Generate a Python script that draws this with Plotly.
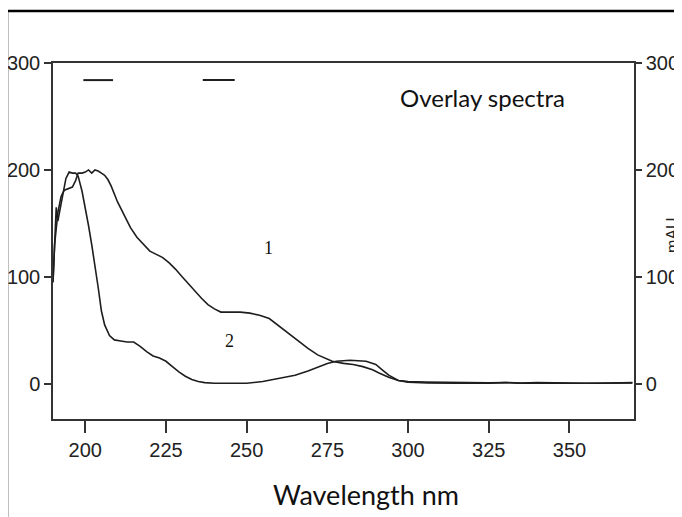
import plotly.graph_objects as go

# ---------------- data ----------------
wl_1 = [190.0, 190.5, 191.5, 192.5, 193.5, 195.0, 196.0, 197.0, 197.8, 199.0, 200.0, 201.0, 202.0,
        203.0, 204.0, 205.0, 206.0, 207.0, 208.0, 210.0, 212.0, 214.0, 216.0, 218.0, 220.0, 222.0,
        224.0, 226.0, 228.0, 230.0, 232.0, 234.0, 236.0, 238.0, 240.0, 242.0, 245.0, 248.0, 251.0,
        254.0, 257.0, 260.0, 263.0, 266.0, 269.0, 272.0, 276.5, 280.0, 283.0, 286.0, 289.0, 291.0,
        294.0, 297.0, 300.0, 305.0, 310.0, 315.0, 320.0, 325.0, 330.0, 335.0, 340.0, 345.0, 350.0,
        355.0, 360.0, 365.0, 369.5]
abs_1 = [95, 130, 160, 175, 181, 183, 184, 190, 197, 197, 198, 200, 197,
         200, 199, 197, 195, 191, 185, 170, 158, 146, 137, 130, 124, 121,
         118, 113, 107, 100, 93, 86, 80, 74, 70, 67, 67, 67, 66,
         64, 61, 54, 47, 40, 33, 27, 21, 19, 18, 16, 13, 10,
         6, 3, 2, 1.5, 1.2, 1.0, 1.0, 0.8, 1.2, 0.6, 1.0, 0.6, 0.5,
         0.5, 0.5, 0.5, 1.0]

wl_2 = [190.0, 190.5, 191.0, 191.5, 192.0, 193.0, 194.0, 195.0, 196.0, 197.0, 197.8, 199.0, 200.0,
        201.0, 202.0, 203.0, 204.0, 205.0, 206.0, 207.5, 209.0, 211.0, 213.0, 215.0, 217.0, 219.0,
        221.0, 223.0, 225.0, 227.0, 229.0, 231.0, 233.0, 235.0, 237.0, 240.0, 245.0, 250.0, 255.0,
        258.0, 262.0, 265.0, 269.0, 272.5, 275.0, 277.8, 282.0, 287.0, 290.0, 292.0, 294.0, 297.0,
        300.0, 306.0, 310.0, 315.0, 320.0, 325.0, 330.0, 335.0, 340.0, 345.0, 350.0, 355.0, 360.0,
        365.0, 369.5]
abs_2 = [95, 140, 165, 152, 160, 178, 192, 198, 197, 197, 194, 180, 165,
         148, 130, 112, 90, 68, 55, 45, 41, 40, 39, 39, 35, 30,
         26, 24, 21, 16, 11, 7, 4, 2, 1, 0.5, 0.5, 0.5, 2,
         4, 6, 8, 12, 16, 19, 21, 22, 21, 18, 13, 8, 3,
         1.5, 0.8, 0.5, 0.5, 0.8, 0.4, 1.0, 0.5, 0.8, 0.4, 0.5, 0.5, 0.4,
         0.5, 0.8]

# short marker dashes near the top of the panel
dash_x = [[199.4, 208.6], [236.4, 246.3]]
dash_y = 284

curve_labels = ["1", "2"]
label_x = [256.8, 244.6]
label_y = [127, 40]

x_ticks = [200, 225, 250, 275, 300, 325, 350]
y_ticks = [0, 100, 200, 300]
x_range = [190, 370]
y_range = [-33, 300]

title_text = "Overlay spectra"
x_title = "Wavelength nm"
y_title = "mAU"

# ---------------- figure ----------------
# page body has an 8px margin, so the figure is 674x509 to fill the 682x517 window
W, H = 674, 509
PL, PR, PT, PB = 45, 626, 55, 411          # plot area in figure pixels
PW, PH = PR - PL, PB - PT


def px(x):   # reference-window x pixel -> paper coordinate
    return (x - 8 - PL) / PW


def py(y):   # reference-window y pixel -> paper coordinate
    return (PB - (y - 8)) / PH


line_col = "#1e1e1e"
tick_font = dict(family="Liberation Sans Narrow, Arial Narrow, Liberation Sans, Arial, sans-serif",
                 size=20, color="#222")

fig = go.Figure()
fig.add_trace(go.Scatter(x=wl_1, y=abs_1, mode="lines", line=dict(color=line_col, width=1.6),
                         showlegend=False, hoverinfo="skip"))
fig.add_trace(go.Scatter(x=wl_2, y=abs_2, mode="lines", line=dict(color=line_col, width=1.6),
                         showlegend=False, hoverinfo="skip"))
for seg in dash_x:
    fig.add_trace(go.Scatter(x=seg, y=[dash_y, dash_y], mode="lines",
                             line=dict(color=line_col, width=2), showlegend=False, hoverinfo="skip"))
# dummy trace to activate right axis
fig.add_trace(go.Scatter(x=[None], y=[None], yaxis="y2", showlegend=False, hoverinfo="skip"))

for t, lx, ly in zip(curve_labels, label_x, label_y):
    fig.add_annotation(x=lx, y=ly, text=t, showarrow=False,
                       font=dict(family="Liberation Serif, Times New Roman, serif", size=18, color="#111"))

fig.update_layout(
    width=W, height=H,
    margin=dict(l=PL, r=W - PR, t=PT, b=H - PB, autoexpand=False),
    paper_bgcolor="white", plot_bgcolor="white",
    xaxis=dict(range=x_range, tickvals=x_ticks, ticktext=[str(v) for v in x_ticks], automargin=False,
               showgrid=False, zeroline=False, showline=True, mirror=True,
               linecolor="#333", linewidth=1.5, ticks="outside", ticklen=12, tickwidth=1.5,
               tickcolor="#333", tickfont=tick_font),
    yaxis=dict(range=y_range, tickvals=y_ticks, showgrid=False, zeroline=False, showline=True,
               automargin=False,
               linecolor="#333", linewidth=1.5, ticks="outside", ticklen=7, tickwidth=1.5,
               tickcolor="#333", tickfont=tick_font),
    yaxis2=dict(range=y_range, tickvals=y_ticks, overlaying="y", side="right", showgrid=False,
                automargin=False,
                zeroline=False, showline=True, linecolor="#333", linewidth=1.5, ticks="outside",
                ticklen=6, tickwidth=1.5, tickcolor="#333", tickfont=tick_font),
)

# title inside the panel
fig.add_annotation(xref="paper", yref="paper", x=px(567), y=py(98),
                   xanchor="right", yanchor="middle", text=title_text, showarrow=False,
                   font=dict(family="Lato, Open Sans, sans-serif", size=24, color="#111"))
# x axis title
fig.add_annotation(xref="paper", yref="paper", x=px(366), y=py(494),
                   xanchor="center", yanchor="middle", text=x_title, showarrow=False,
                   font=dict(family="Lato, Open Sans, sans-serif", size=27, color="#111"))
# right y title
fig.add_annotation(xref="paper", yref="paper", x=px(673), y=py(235),
                   xanchor="center", yanchor="middle", text=y_title, textangle=-90, showarrow=False,
                   font=dict(family="Liberation Sans, Arial, sans-serif", size=16, color="#222"))

# outer frame (left and top edges visible)
fig.add_shape(type="line", xref="paper", yref="paper", x0=px(7), x1=px(7),
              y0=py(11), y1=py(530), line=dict(color="black", width=2.5))
fig.add_shape(type="line", xref="paper", yref="paper", x0=px(7), x1=px(700),
              y0=py(11), y1=py(11), line=dict(color="black", width=2.5))

fig.write_html("out.html")
